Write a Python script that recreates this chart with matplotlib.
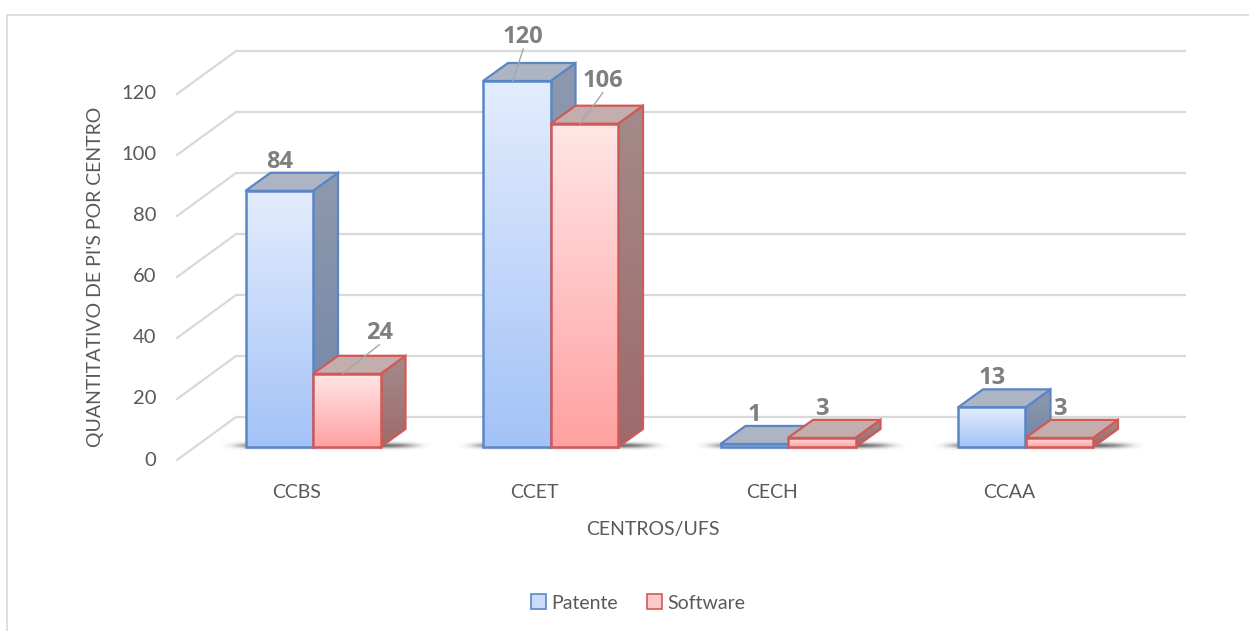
import numpy as np
import matplotlib
matplotlib.use("Agg")
import matplotlib.pyplot as plt
from matplotlib.patches import Rectangle, Polygon, Patch
from matplotlib.colors import to_rgb

plt.rcParams['font.family'] = ['Lato', 'DejaVu Sans']

# ---- data ----
categories = ["CCBS", "CCET", "CECH", "CCAA"]
patente = [84, 120, 1, 13]
software = [24, 106, 3, 3]
series_names = ["Patente", "Software"]
y_ticks = [0, 20, 40, 60, 80, 100, 120]
x_title = "CENTROS/UFS"
y_title = "QUANTITATIVO DE PI'S POR CENTRO"

# ---- geometry (pixel scale of the canvas) ----
W, H, DPI = 1249, 631, 100
PX_PER_CAT = 237.5          # horizontal pixels per category
PX_PER_VAL = 3.05           # vertical pixels per value unit
X0_PX, Y0_PX = 313, 447     # pixel position of category 0 / value 0 (front face)


def px_x(p):
    return (p - X0_PX) / PX_PER_CAT


def px_y(p):
    return (Y0_PX - p) / PX_PER_VAL


def dx(p):
    return p / PX_PER_CAT


def dy(p):
    return p / PX_PER_VAL


BAR_W = dx(67.5)
DEPTH_X, DEPTH_Y = dx(25), dy(18)
WALL_BACK = dy(30)          # back wall offset above the front face baseline
WALL_FRONT = dy(-13)        # front end of the side wall diagonals

styles = {
    "Patente": dict(front=("#e3edfd", "#a3c2f7"), top="#adb5c5",
                    side=("#8e99ad", "#7186a8"), edge="#5a86c6",
                    legend="#c9dcfa"),
    "Software": dict(front=("#ffe6e6", "#ffa1a1"), top="#c4adad",
                     side=("#a48b8b", "#9e6a6a"), edge="#cf5a58",
                     legend="#ffc9c9"),
}

fig = plt.figure(figsize=(W / DPI, H / DPI), dpi=DPI)
fig.patch.set_facecolor("white")
ax = fig.add_axes([0, 0, 1, 1])
ax.set_axis_off()

# outer chart border
fig.patches.append(Rectangle((7 / W, -0.01), 1.05, 1 - 15 / H + 0.01,
                             transform=fig.transFigure, fill=False,
                             edgecolor="#d9d9d9", linewidth=1.2, zorder=0))

GRID_C = "#d9d9d9"
x_wall_back_l, x_wall_back_r = px_x(236), px_x(1186)
x_wall_front = px_x(177)
for v in y_ticks:
    ax.plot([x_wall_back_l, x_wall_back_r], [v + WALL_BACK] * 2,
            color=GRID_C, lw=1.6, zorder=1, solid_capstyle="butt")
    ax.plot([x_wall_front, x_wall_back_l], [v + WALL_FRONT, v + WALL_BACK],
            color=GRID_C, lw=1.6, zorder=1)
    ax.text(px_x(156), v + WALL_FRONT, str(v), ha="right", va="center",
            fontsize=14.5, color="#595959")


def gradient_fill(patch, extent, c_top, c_bottom, z):
    top, bot = np.array(to_rgb(c_top)), np.array(to_rgb(c_bottom))
    t = np.linspace(0, 1, 256)[:, None]
    img = (bot * (1 - t) + top * t)[:, None, :]
    im = ax.imshow(img, extent=extent, origin="lower", aspect="auto",
                   interpolation="bilinear", zorder=z)
    im.set_clip_path(patch)


def shadow(x_left, x_right, z):
    # soft blurred floor shadow under a pair of bars
    nx, ny = 300, 60
    xs = np.linspace(-1, 1, nx)[None, :]
    ys = np.linspace(-1, 1, ny)[:, None]
    a = np.exp(-(np.abs(xs) / 0.8) ** 8) * np.exp(-(ys / 0.4) ** 2)
    rgba = np.zeros((ny, nx, 4))
    rgba[..., :3] = 0.2
    rgba[..., 3] = 0.75 * a
    ax.imshow(rgba, extent=[x_left, x_right, -dy(5), dy(8)], origin="lower",
              aspect="auto", interpolation="bilinear", zorder=z)


def bar3d(xl, h, st, z):
    w = BAR_W
    side = Polygon([(xl + w, 0), (xl + w + DEPTH_X, DEPTH_Y),
                    (xl + w + DEPTH_X, h + DEPTH_Y), (xl + w, h)],
                   closed=True, facecolor="none", edgecolor=st["edge"],
                   lw=1.6, zorder=z + 0.3)
    ax.add_patch(side)
    gradient_fill(side, [xl + w, xl + w + DEPTH_X, 0, h + DEPTH_Y],
                  st["side"][0], st["side"][1], z + 0.2)
    top = Polygon([(xl, h), (xl + w, h), (xl + w + DEPTH_X, h + DEPTH_Y),
                   (xl + DEPTH_X, h + DEPTH_Y)], closed=True,
                  facecolor=st["top"], edgecolor=st["edge"], lw=1.6,
                  zorder=z + 0.4)
    ax.add_patch(top)
    front = Rectangle((xl, 0), w, h, facecolor="none", edgecolor=st["edge"],
                      lw=1.8, zorder=z + 0.6)
    ax.add_patch(front)
    gradient_fill(front, [xl, xl + w, 0, h], st["front"][0], st["front"][1],
                  z + 0.5)


# value label placement (pixel offsets from the top-face centre)
label_offset = {("Software", 0): (20, -32), ("Patente", 1): (-6, -35),
                ("Software", 1): (6, -34)}
DEFAULT_OFFSET = (-12, -20)

for i, cat in enumerate(categories):
    x_left = i - BAR_W
    shadow(x_left - dx(30), i + BAR_W + DEPTH_X + dx(30), 2)
    for j, (name, vals) in enumerate(zip(series_names, [patente, software])):
        xl = i - BAR_W + j * BAR_W
        h = vals[i]
        bar3d(xl, h, styles[name], 3 + j)
        cx = xl + BAR_W / 2 + DEPTH_X / 2
        cy = h + DEPTH_Y / 2
        ox, oy = label_offset.get((name, i), DEFAULT_OFFSET)
        lx, ly = cx + dx(ox), cy - dy(oy)
        ax.text(lx, ly, str(h), ha="center", va="center", fontsize=17,
                fontweight="bold", color="#7f7f7f", zorder=10,
                family=["Open Sans", "DejaVu Sans"])
        if (name, i) in label_offset:
            sx, sy = xl + BAR_W / 2 - dx(4), h
            ax.plot([sx, lx], [sy, ly - dy(12)], color="#a6a6a6", lw=1.0,
                    zorder=9)
    ax.text(i + px_x(297) - px_x(313), px_y(492), cat, ha="center",
            va="center", fontsize=14, color="#595959")

ax.text(px_x(653), px_y(529), x_title, ha="center", va="center",
        fontsize=14, color="#595959")
ax.text(px_x(95), px_y(277), y_title, ha="center", va="center",
        rotation=90, fontsize=14, color="#595959")

handles = [Patch(facecolor=styles[n]["legend"], edgecolor=styles[n]["edge"],
                 linewidth=1.2) for n in series_names]
leg = fig.legend(handles, series_names, loc="center",
                 bbox_to_anchor=(638 / W, 1 - 603 / H), ncol=2,
                 frameon=False, fontsize=14, handlelength=0.8,
                 handleheight=0.8, handletextpad=0.25, columnspacing=1.5)
for t in leg.get_texts():
    t.set_color("#595959")

ax.set_xlim(px_x(0), px_x(W))
ax.set_ylim(px_y(H), px_y(0))

fig.savefig("out.png", dpi=DPI)
